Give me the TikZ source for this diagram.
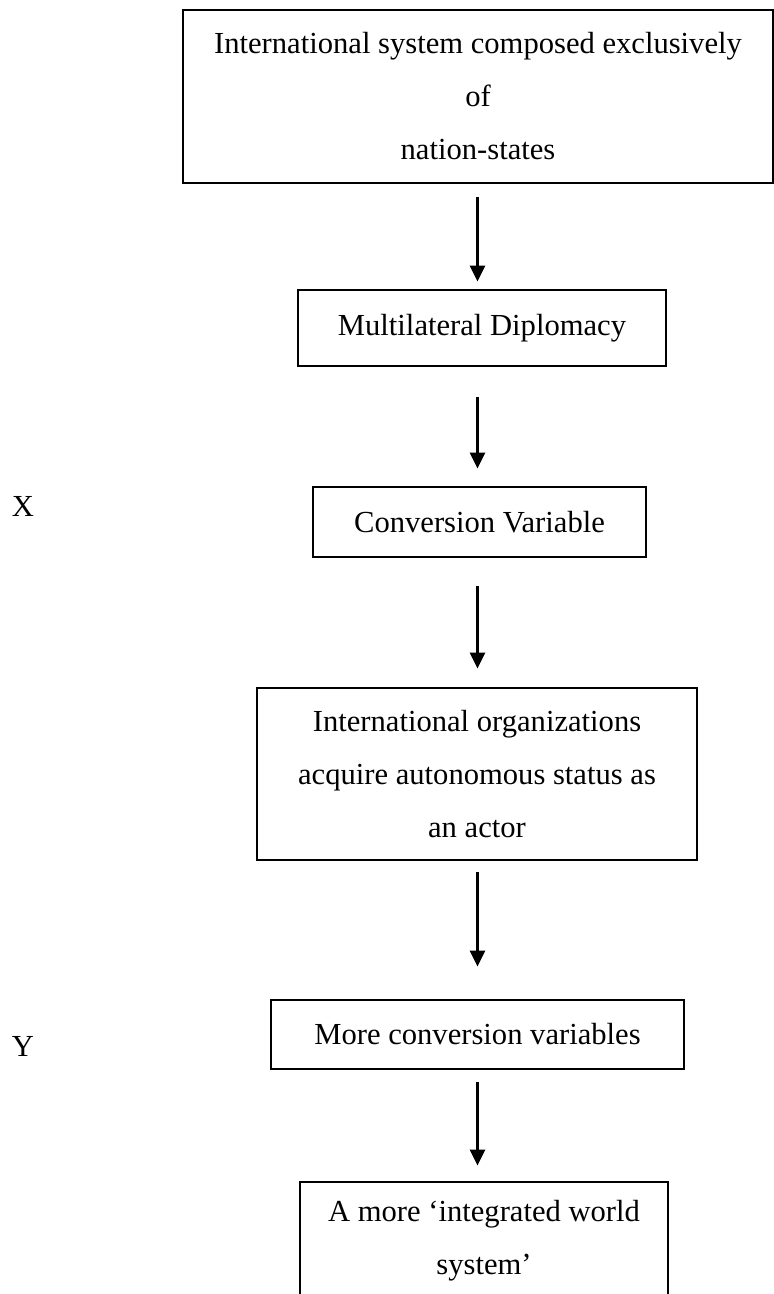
\documentclass[tikz,border=0pt]{standalone}
\usepackage{fontspec}
\setmainfont{Liberation Serif}
\usetikzlibrary{arrows.meta}
\tikzset{
	stage/.style={draw,line width=1.4pt,inner sep=0pt,align=center,font=\fontsize{15.3}{26.5}\selectfont},
	flow/.style={-{Triangle[length=8pt,width=7.5pt]},line width=1.2pt},
	side/.style={font=\fontsize{15.3}{26.5}\selectfont}
}
\begin{document}
\begin{tikzpicture}[x=0.5pt,y=-0.5pt]
			\useasboundingbox (0,0) rectangle (774,1294);
			\node[stage,minimum width=295pt,minimum height=86.5pt] (sys) at (478,96.5) {International system composed exclusively\\of\\nation-states};
			\node[stage,minimum width=184pt,minimum height=38pt] (dip) at (482,328) {Multilateral Diplomacy};
			\node[stage,minimum width=166.5pt,minimum height=35pt] (conv) at (479.5,522) {Conversion Variable};
			\node[stage,minimum width=220pt,minimum height=86pt] (org) at (477,774) {International organizations\\acquire autonomous status as\\an actor};
			\node[stage,minimum width=206.5pt,minimum height=34.5pt] (more) at (477.5,1034.5) {More conversion variables};
			\node[stage,minimum width=184pt,minimum height=59pt] (world) at (484,1241) {A more ‘integrated world\\system’};
			\node[side] (lx) at (23,506) {X};
			\node[side] (ly) at (23,1046) {Y};
			\coordinate (ax) at (477.5,0);
			\draw[flow,shorten <=6.5pt,shorten >=3.5pt] (sys.south -| ax) -- (dip.north -| ax);
			\draw[flow,shorten <=15pt,shorten >=8.5pt] (dip.south -| ax) -- (conv.north -| ax);
			\draw[flow,shorten <=14pt,shorten >=9pt] (conv.south -| ax) -- (org.north -| ax);
			\draw[flow,shorten <=5.5pt,shorten >=16pt] (org.south -| ax) -- (more.north -| ax);
			\draw[flow,shorten <=6pt,shorten >=7.5pt] (more.south -| ax) -- (world.north -| ax);
			\end{tikzpicture}
\end{document}
